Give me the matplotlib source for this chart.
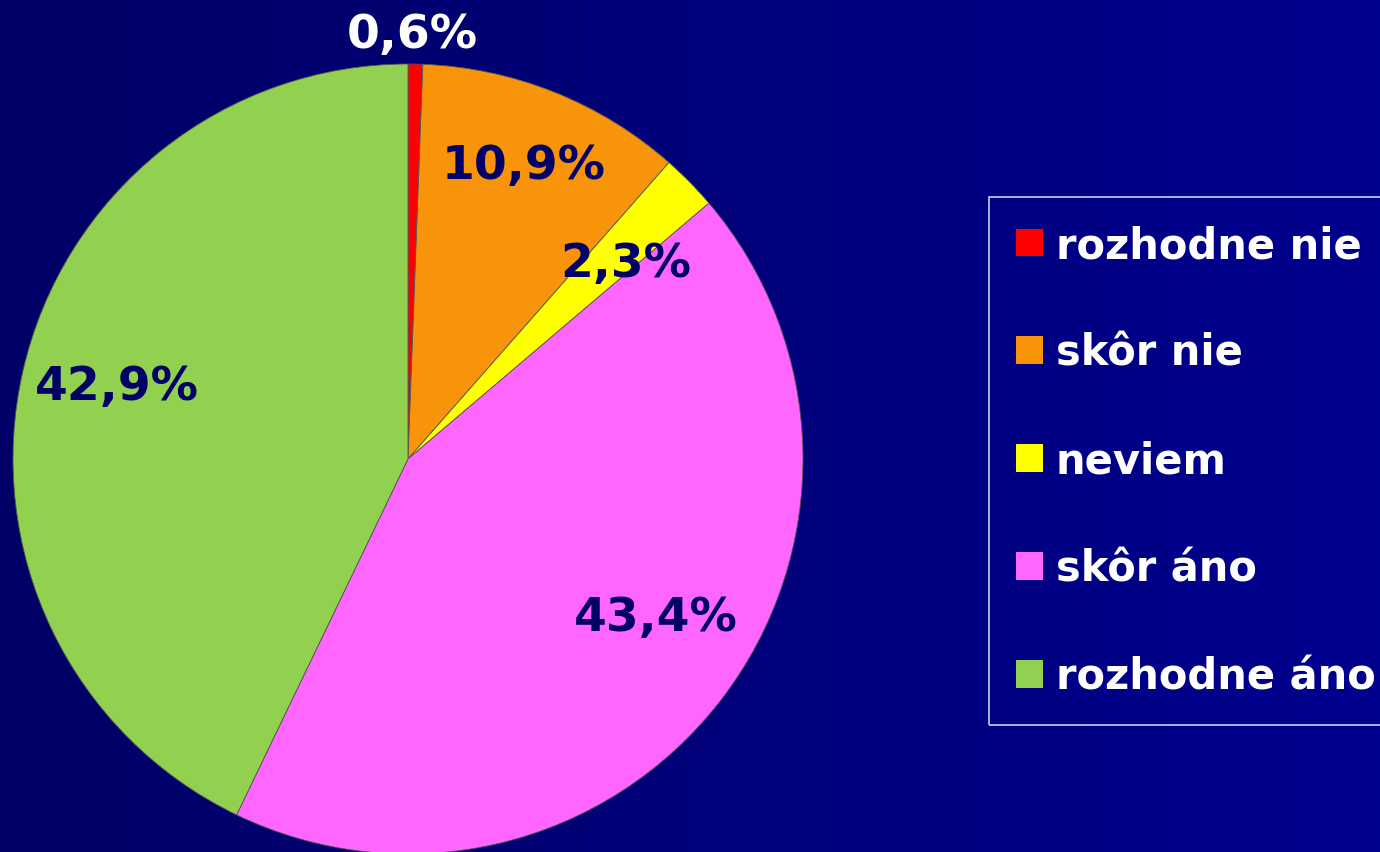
import numpy as np
import matplotlib
matplotlib.use("Agg")
import matplotlib.pyplot as plt
from matplotlib.patches import Patch
from matplotlib.colors import LinearSegmentedColormap

# Datos del grafico
categorias = ["rozhodne nie", "skôr nie", "neviem", "skôr áno", "rozhodne áno"]
valores = [0.6, 10.9, 2.3, 43.4, 42.9]
etiquetas = ["0,6%", "10,9%", "2,3%", "43,4%", "42,9%"]

colores = ["#FF0000", "#F7940A", "#FFFF00", "#FF66FF", "#92D050"]
color_texto = ["white", "#000066", "#000066", "#000066", "#000066"]
# posicion de las etiquetas: distancia radial y desplazamiento angular
dist_texto = [1.075, 0.80, 0.74, 0.745, 0.76]
desp_angulo = [0.5, 0.2, -2.6, 5.0, -1.1]

W, H = 1380, 853
fig = plt.figure(figsize=(W / 100, H / 100), dpi=100)

# Fondo con degradado horizontal
ax_bg = fig.add_axes([0, 0, 1, 1])
cmap_bg = LinearSegmentedColormap.from_list("bg", ["#000066", "#00008E"])
ax_bg.imshow(np.linspace(0, 1, 256).reshape(1, -1), aspect="auto", cmap=cmap_bg,
             extent=[0, 1, 0, 1])
ax_bg.axis("off")

# Pastel: centro (408, 460) px, radio 395 px
cx, cy, r = 408, 460, 395
ax = fig.add_axes([(cx - r) / W, (H - cy - r) / H, 2 * r / W, 2 * r / H])

wedges, _ = ax.pie(valores, colors=colores, startangle=90, counterclock=False,
                   radius=1, wedgeprops=dict(edgecolor="#555555", linewidth=0.6))
ax.set_xlim(-1, 1)
ax.set_ylim(-1, 1)
ax.axis("off")

for w, txt, col, d, da in zip(wedges, etiquetas, color_texto, dist_texto, desp_angulo):
    ang = np.deg2rad((w.theta1 + w.theta2) / 2 + da)
    ax.text(d * np.cos(ang), d * np.sin(ang), txt, ha="center", va="center",
            fontsize=34, fontweight="bold", color=col, clip_on=False)

# Leyenda
handles = [Patch(facecolor=c, edgecolor="none") for c in colores]
leg = fig.legend(handles, categorias, loc="upper left",
                 bbox_to_anchor=(989 / W, 1 - 198 / H), fontsize=30,
                 frameon=True, fancybox=False, labelcolor="white",
                 handlelength=0.65, handleheight=0.65, handletextpad=0.3,
                 borderpad=0.65, labelspacing=1.58, borderaxespad=0)
leg.get_frame().set_facecolor("none")
leg.get_frame().set_edgecolor("white")
leg.get_frame().set_linewidth(1.2)
for t in leg.get_texts():
    t.set_fontweight("bold")

fig.savefig("out.png", dpi=100)
plt.close(fig)
